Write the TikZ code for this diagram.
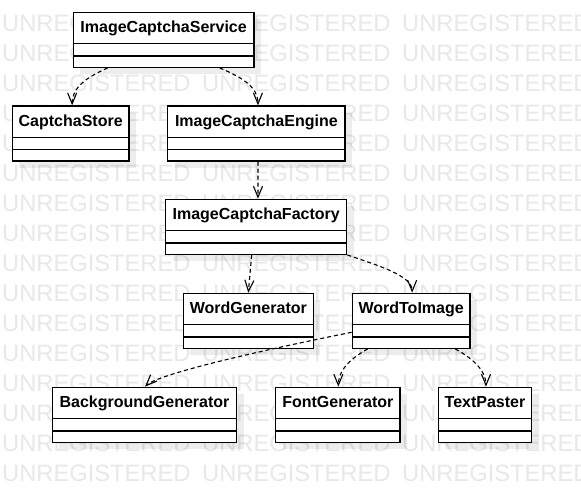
\documentclass[tikz,border=0pt]{standalone}
\usepackage{fontspec}
\setmainfont{Liberation Sans}
\usetikzlibrary{arrows.meta,fit,calc}
\tikzset{
  clsbox/.style={draw=black, fill=white, line width=1.3pt, inner sep=0pt},
  clstitle/.style={font=\fontsize{16}{19}\selectfont\bfseries, inner sep=0pt, anchor=base},
  compline/.style={draw=black, line width=1.3pt},
  shadowbox/.style={fill=black, fill opacity=0.07},
  dep/.style={draw=black, line width=1.1pt, dash pattern=on 4pt off 3pt,
    -{Straight Barb[length=11pt,width=9pt,line width=1.1pt]}},
  wmark/.style={font=\fontsize{23.7}{28}\selectfont, text=black!9, inner sep=0pt, anchor=base west},
}
% name, x1, y1, x2, label
\newcommand\umlclass[5]{%
  \coordinate (#1-nw) at (#2,#3);
  \coordinate (#1-se) at (#4,#3+55);
  \fill[shadowbox] (#2+7,#3+7) rectangle (#4+7,#3+62);
  \node[clsbox, fit=(#1-nw)(#1-se)] (#1) {};
  \node[clstitle] (#1-t) at ($(#1.north)+(0,20.8)$) {#5};
  \draw[compline] (#2,#3+31.5) -- (#4,#3+31.5);
  \draw[compline] (#2,#3+43.8) -- (#4,#3+43.8);
}
\begin{document}
\begin{tikzpicture}[x=1pt,y=-1pt]
\useasboundingbox (0,0) rectangle (581,492);
\clip (0,0) rectangle (581,492);
\fill[white] (0,0) rectangle (581,492);
\foreach \k in {0,...,15} {
  \foreach \i in {0,1,2} {
    \node[wmark] (wm-\k-\i) at (2+200*\i, 31.7+30*\k) {UNREGISTERED};
  }
}
\umlclass{S}{73.3}{12.3}{254}{ImageCaptchaService}
\umlclass{CS}{12.3}{106}{129}{CaptchaStore}
\umlclass{E}{167.7}{106}{345}{ImageCaptchaEngine}
\umlclass{F}{165.7}{199.3}{346.7}{ImageCaptchaFactory}
\umlclass{WG}{183.3}{293.3}{313.3}{WordGenerator}
\umlclass{WI}{352.3}{293.3}{470}{WordToImage}
\umlclass{BG}{52.3}{387.3}{236.7}{BackgroundGenerator}
\umlclass{FG}{275.7}{387.3}{400}{FontGenerator}
\umlclass{TP}{438.3}{387.3}{531.7}{TextPaster}

\draw[dep] ($(S.south west)+(35,0)$) .. controls +(-22,10) and +(0,-18) .. ($(CS.north)+(1.5,0)$);
\draw[dep] ($(S.south west)+(147,0)$) .. controls +(24,10) and +(0,-18) .. ($(E.north)+(1.6,0)$);
\draw[dep] ($(E.south)+(1.65,0)$) -- ($(F.north)+(1.8,0)$);
\draw[dep] ($(F.south)+(-4.5,0)$) -- (WG.north);
\draw[dep] (F.south east) .. controls +(32,11) and +(0,-17) .. ($(WI.north)+(1,0)$);
\draw[dep] ($(WI.west)+(0,11.5)$) .. controls +(-100,20) and +(12,-12) .. ($(BG.north)+(0.5,0)$);
\draw[dep] ($(WI.south west)+(16,0)$) .. controls +(-18,10) and +(0,-16) .. ($(FG.north)+(0.5,0)$);
\draw[dep] ($(WI.south west)+(103.7,0)$) .. controls +(18,10) and +(0,-16) .. ($(TP.north)+(1,0)$);
\end{tikzpicture}
\end{document}
